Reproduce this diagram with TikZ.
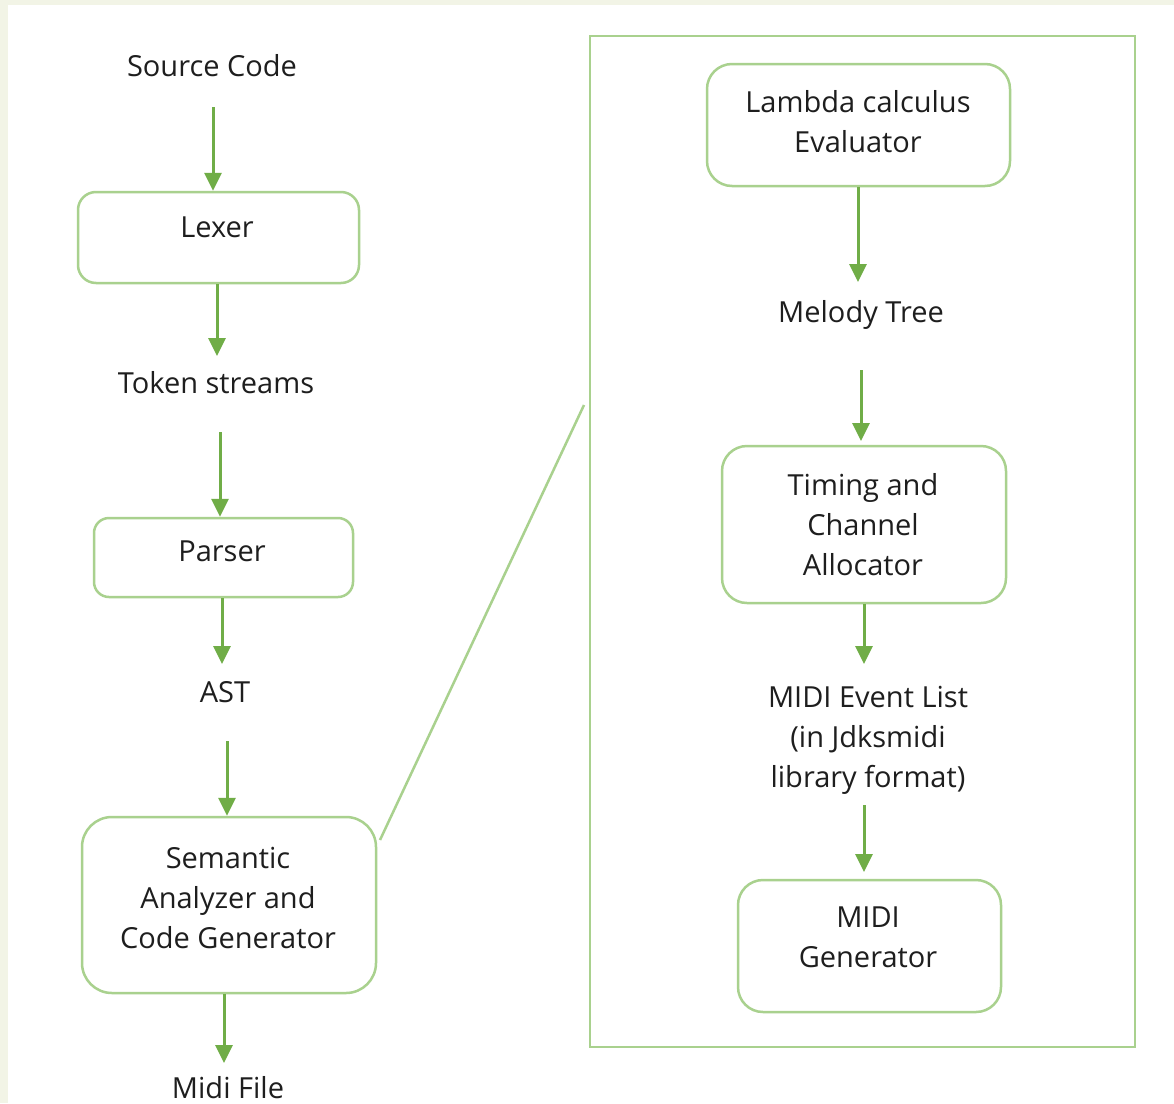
\documentclass[tikz,border=0pt]{standalone}
\usepackage{fontspec}
\setmainfont{Open Sans}
\usetikzlibrary{arrows.meta}
\definecolor{boxg}{HTML}{A9D18E}
\definecolor{arrg}{HTML}{70AD47}
\definecolor{txt}{HTML}{1E1E1E}
\definecolor{bgtint}{HTML}{F2F4E6}
\newcommand{\fs}{\fontsize{29}{40}\selectfont}
\tikzset{
  box/.style={draw=boxg, line width=2.5pt, inner sep=0pt, rounded corners=#1},
  box/.default=16pt,
  lbl/.style={font=\fs, text=txt, align=center, inner sep=0pt},
  arr/.style={draw=arrg, line width=3pt, -{Triangle[length=18pt,width=17pt]}},
  link/.style={draw=boxg, line width=2.5pt}
}
\begin{document}
\begin{tikzpicture}[x=1pt,y=-1pt]
\fill[bgtint] (0,0) rectangle (1174,1103);
\fill[white] (8,5) rectangle (1174,1103);
\useasboundingbox (0,0) rectangle (1174,1103);
% left column
\node[lbl] (src) at (212,66) {Source Code};
\node[box=18pt, minimum width=281pt, minimum height=91pt] (lexer) at (218.5,237.5) {};
\node[lbl] (lexert) at (217,227) {Lexer};
\node[lbl] (tok) at (216,383) {Token streams};
\node[box=15pt, minimum width=259pt, minimum height=79pt] (parser) at (223.5,557.5) {};
\node[lbl] (parsert) at (222,551) {Parser};
\node[lbl] (ast) at (225,692) {AST};
\node[box=30pt, minimum width=294pt, minimum height=176pt] (sem) at (229,905) {};
\node[lbl] (semt) at (228,898) {Semantic\\Analyzer and\\Code Generator};
\node[lbl, anchor=base, text depth=0pt] (midi) at (228,1098) {Midi File};
% right frame
\node[draw=boxg, line width=2.5pt, inner sep=0pt, minimum width=545pt, minimum height=1011pt] (frame) at (862.5,541.5) {};
\node[box=25pt, minimum width=303pt, minimum height=122pt] (lam) at (858.5,125) {};
\node[lbl] (lamt) at (858,121.5) {Lambda calculus\\Evaluator};
\node[lbl] (mel) at (861,315) {Melody Tree};
\node[box=25pt, minimum width=284pt, minimum height=157pt] (tim) at (864,524.5) {};
\node[lbl] (timt) at (863,525) {Timing and\\Channel\\Allocator};
\node[lbl] (evt) at (868,740) {MIDI Event List\\(in Jdksmidi\\library format)};
\node[box=25pt, minimum width=263pt, minimum height=132pt] (gen) at (869.5,946) {};
\node[lbl] (gent) at (868,937.5) {MIDI\\Generator};
% arrow end points
\coordinate (s1) at (213,107);
\coordinate (s2) at (220,432);
\coordinate (s3) at (227,741);
\coordinate (s4) at (861,370);
\coordinate (s5) at (864,805);
\coordinate (e1) at (217,356);
\coordinate (e2) at (222,664);
\coordinate (e3) at (224,1063);
\coordinate (e4) at (858,282);
\coordinate (e5) at (864,664);
\coordinate (t4) at (861,441);
\coordinate (t5) at (864,872);
% arrows
\draw[arr] (s1) -- (s1 |- lexer.north);
\draw[arr] (lexer.south -| e1) -- (e1);
\draw[arr] (s2) -- (s2 |- parser.north);
\draw[arr] (parser.south -| e2) -- (e2);
\draw[arr] (s3) -- (s3 |- sem.north);
\draw[arr] (sem.south -| e3) -- (e3);
\draw[arr] (lam.south -| e4) -- (e4);
\draw[arr] (s4) -- (t4);
\draw[arr] (tim.south -| e5) -- (e5);
\draw[arr] (s5) -- (t5);
% zoom link
\coordinate (l1) at (380,840);
\coordinate (l2) at (584,405);
\draw[link] (l1) -- (l2);
\end{tikzpicture}
\end{document}
